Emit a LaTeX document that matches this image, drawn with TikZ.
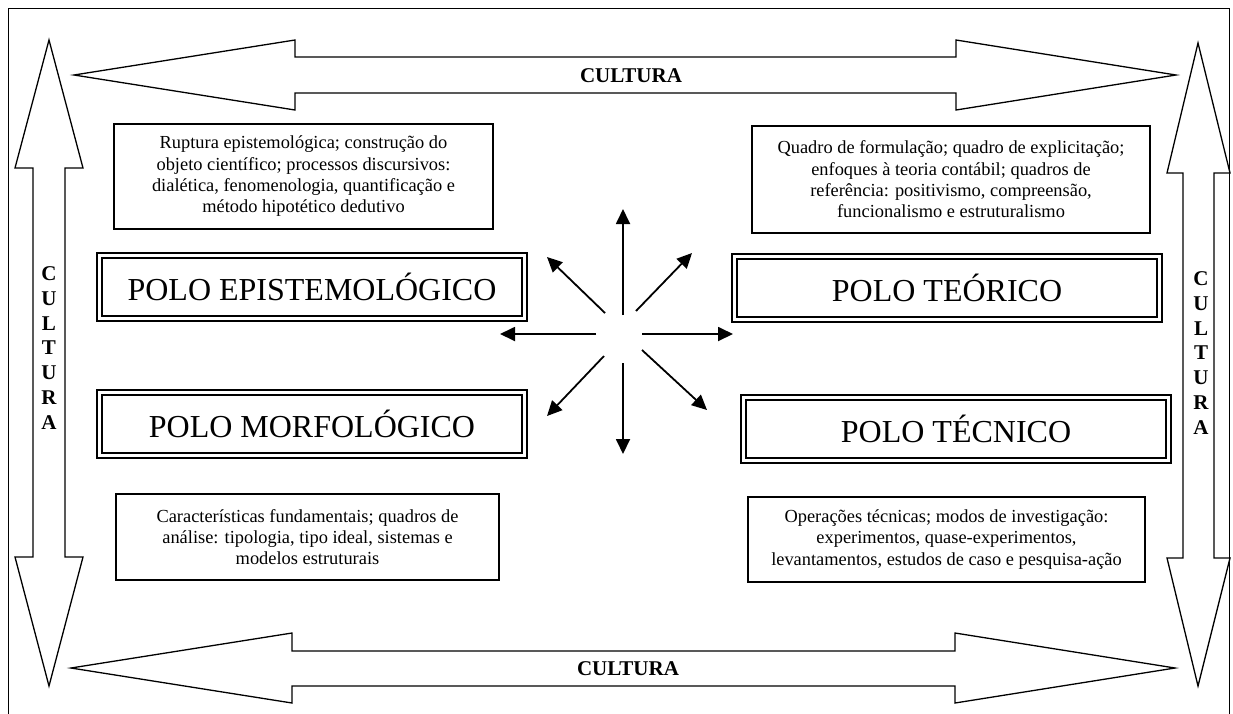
\documentclass[tikz,border=0pt]{standalone}
\usepackage{fontspec}
\setmainfont{Liberation Serif}
\usetikzlibrary{arrows.meta}
\begin{document}
\begin{tikzpicture}[x=1pt,y=-1pt,
  bigarrow/.style={draw=black,line width=1.3pt,fill=white,line join=miter},
  txtbox/.style={draw=black,line width=1.2pt,align=center,inner sep=0pt,
    font=\fontsize{18.4}{21.3}\selectfont},
  polo/.style={draw=black,double=white,double distance=2.2pt,line width=2.1pt,
    minimum width=425pt,minimum height=63pt,inner sep=0pt,
    font=\fontsize{32}{38}\selectfont},
  cult/.style={font=\fontsize{21}{24.8}\selectfont\bfseries,inner sep=0pt,align=center},
  spoke/.style={line width=1.8pt,-{Triangle[length=15pt,width=14pt]}}]
\useasboundingbox (0,0) rectangle (1233,713);
\fill[white] (0,0) rectangle (1233,713);
% outer frame
\draw[line width=1pt] (8,716) -- (8,8) -- (1229,8) -- (1229,716);
% big arrows
\draw[bigarrow] (74,75) -- (295,40) -- (295,57) -- (956,57) -- (956,40) -- (1176,75)
  -- (956,110) -- (956,93) -- (295,93) -- (295,110) -- cycle;
\draw[bigarrow] (71,668) -- (292,633) -- (292,651) -- (955,651) -- (955,633) -- (1175,668)
  -- (955,703) -- (955,686) -- (292,686) -- (292,703) -- cycle;
\draw[bigarrow] (49,40) -- (83,168) -- (65,168) -- (65,557) -- (83,557) -- (49,686)
  -- (15,557) -- (33,557) -- (33,168) -- (15,168) -- cycle;
\draw[bigarrow] (1198,43) -- (1230,173) -- (1214,173) -- (1214,558) -- (1230,558) -- (1198,686)
  -- (1167,558) -- (1183,558) -- (1183,173) -- (1167,173) -- cycle;
% CULTURA labels
\node[cult] (ctop) at (631,76) {CULTURA};
\node[cult] (cbot) at (628,669) {CULTURA};
\node[cult] (cleft) at (49,348) {C\\U\\L\\T\\U\\R\\A};
\node[cult] (cright) at (1201,353) {C\\U\\L\\T\\U\\R\\A};
% text boxes
\node[txtbox,minimum width=379pt,minimum height=105pt] (t1) at (303.5,176.5)
  {Ruptura epistemológica; construção do\\objeto científico; processos discursivos:\\dialética, fenomenologia, quantificação e\\método hipotético dedutivo};
\node[txtbox,minimum width=398pt,minimum height=107pt] (t2) at (951,179.5)
  {Quadro de formulação; quadro de explicitação;\\enfoques à teoria contábil; quadros de\\referência: positivismo, compreensão,\\funcionalismo e estruturalismo};
\node[txtbox,minimum width=383pt,minimum height=86pt] (t3) at (307.5,537)
  {Características fundamentais; quadros de\\análise: tipologia, tipo ideal, sistemas e\\modelos estruturais};
\node[txtbox,minimum width=397pt,minimum height=85pt] (t4) at (946.5,539.5)
  {Operações técnicas; modos de investigação:\\experimentos, quase-experimentos,\\levantamentos, estudos de caso e pesquisa-ação};
% poles
\node[polo] (pe) at (312,287) {POLO EPISTEMOLÓGICO};
\node[polo] (pm) at (312,424) {POLO MORFOLÓGICO};
\node[polo] (pt) at (947,288) {POLO TEÓRICO};
\node[polo] (pc) at (956,429) {POLO TÉCNICO};
% central spokes
\coordinate (s1) at (623,315); \coordinate (e1) at (623,209);
\coordinate (s2) at (636,311); \coordinate (e2) at (692,253);
\coordinate (s3) at (642,334); \coordinate (e3) at (733,334);
\coordinate (s4) at (642,350); \coordinate (e4) at (707,410);
\coordinate (s5) at (623,363); \coordinate (e5) at (623,454);
\coordinate (s6) at (604,356); \coordinate (e6) at (547,416);
\coordinate (s7) at (596,334); \coordinate (e7) at (500,334);
\coordinate (s8) at (605,313); \coordinate (e8) at (547,257);
\foreach \i in {1,...,8} {\draw[spoke] (s\i) -- (e\i);}
\end{tikzpicture}
\end{document}
